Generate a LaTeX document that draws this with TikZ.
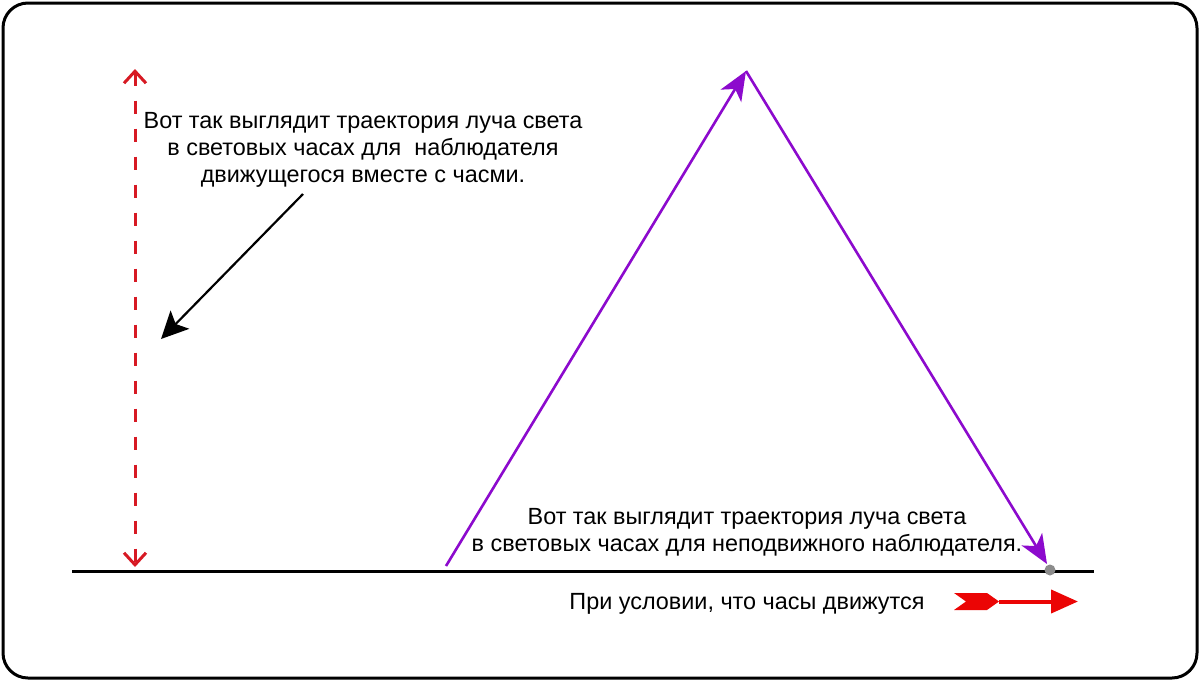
\documentclass[tikz,border=0pt]{standalone}
\usepackage{fontspec}
\setmainfont{Liberation Sans}
\usetikzlibrary{arrows.meta}
\definecolor{dashred}{RGB}{215,25,35}
\definecolor{arrred}{RGB}{235,5,5}
\definecolor{violetline}{RGB}{140,10,205}
\definecolor{dotgray}{RGB}{140,140,140}
\tikzset{
  frame/.style={draw=black,line width=3pt,rounded corners=25pt},
  caption/.style={align=center,inner sep=0pt,font=\fontsize{23.4}{27}\selectfont},
  ray/.style={draw=violetline,line width=2.6pt,-{Stealth[length=29pt,width=24pt,inset=8pt]}},
  pointer/.style={draw=black,line width=2.2pt,-{Stealth[length=27pt,width=26pt,inset=6pt]}},
  clockh/.style={draw=dashred,line width=3pt,dash pattern=on 13pt off 15pt,
    {Straight Barb[length=12pt,width=22pt,line width=3pt]}-{Straight Barb[length=12pt,width=22pt,line width=3pt]}},
  ground/.style={draw=black,line width=3pt}
}
\begin{document}
\begin{tikzpicture}[x=1pt,y=-1pt]
\useasboundingbox (0,0) rectangle (1200,681);
\fill[white] (0,0) rectangle (1200,681);
\draw[frame] (3,3) rectangle (1197,678);

% ground line
\coordinate (g1) at (72,571);
\coordinate (g2) at (1094,571);
\draw[ground] (g1) -- (g2);

% red dashed vertical (clock height)
\coordinate (r1) at (135,69);
\coordinate (r2) at (135,567);
\draw[clockh] (r1) -- (r2);

% purple light path
\coordinate (pA) at (446,566);
\coordinate (pB) at (746,71);
\coordinate (pC) at (1047,564);
\draw[ray] (pA) -- (pB);
\draw[ray] (pB) -- (pC);

% gray dot
\node[circle,fill=dotgray,inner sep=0pt,minimum size=11pt] (dot) at (1050,570) {};

% captions
\node[caption,anchor=north] (t1) at (363,112.3)
  {Вот так выглядит траектория луча света\\в световых часах для\ \ наблюдателя\\движущегося вместе с часми.};
\node[caption,anchor=north] (t2) at (747,508.3)
  {Вот так выглядит траектория луча света\\в световых часах для неподвижного наблюдателя.};
\node[caption,anchor=north] (t3) at (747,593.3)
  {При условии, что часы движутся};

% black pointer arrow
\coordinate (bs) at (303,194);
\coordinate (bp) at (161,339);
\draw[pointer] (bs) -- (bp);

% red movement arrow
\coordinate (m1) at (999,601.5);
\coordinate (m2) at (1078,601.5);
\fill[arrred] (954,593) -- (987,593) -- (m1) -- (987,610) -- (954,610) -- (966,601.5) -- cycle;
\draw[arrred,line width=4pt,-{Triangle[length=27pt,width=23pt]}] (m1) -- (m2);
\end{tikzpicture}
\end{document}
